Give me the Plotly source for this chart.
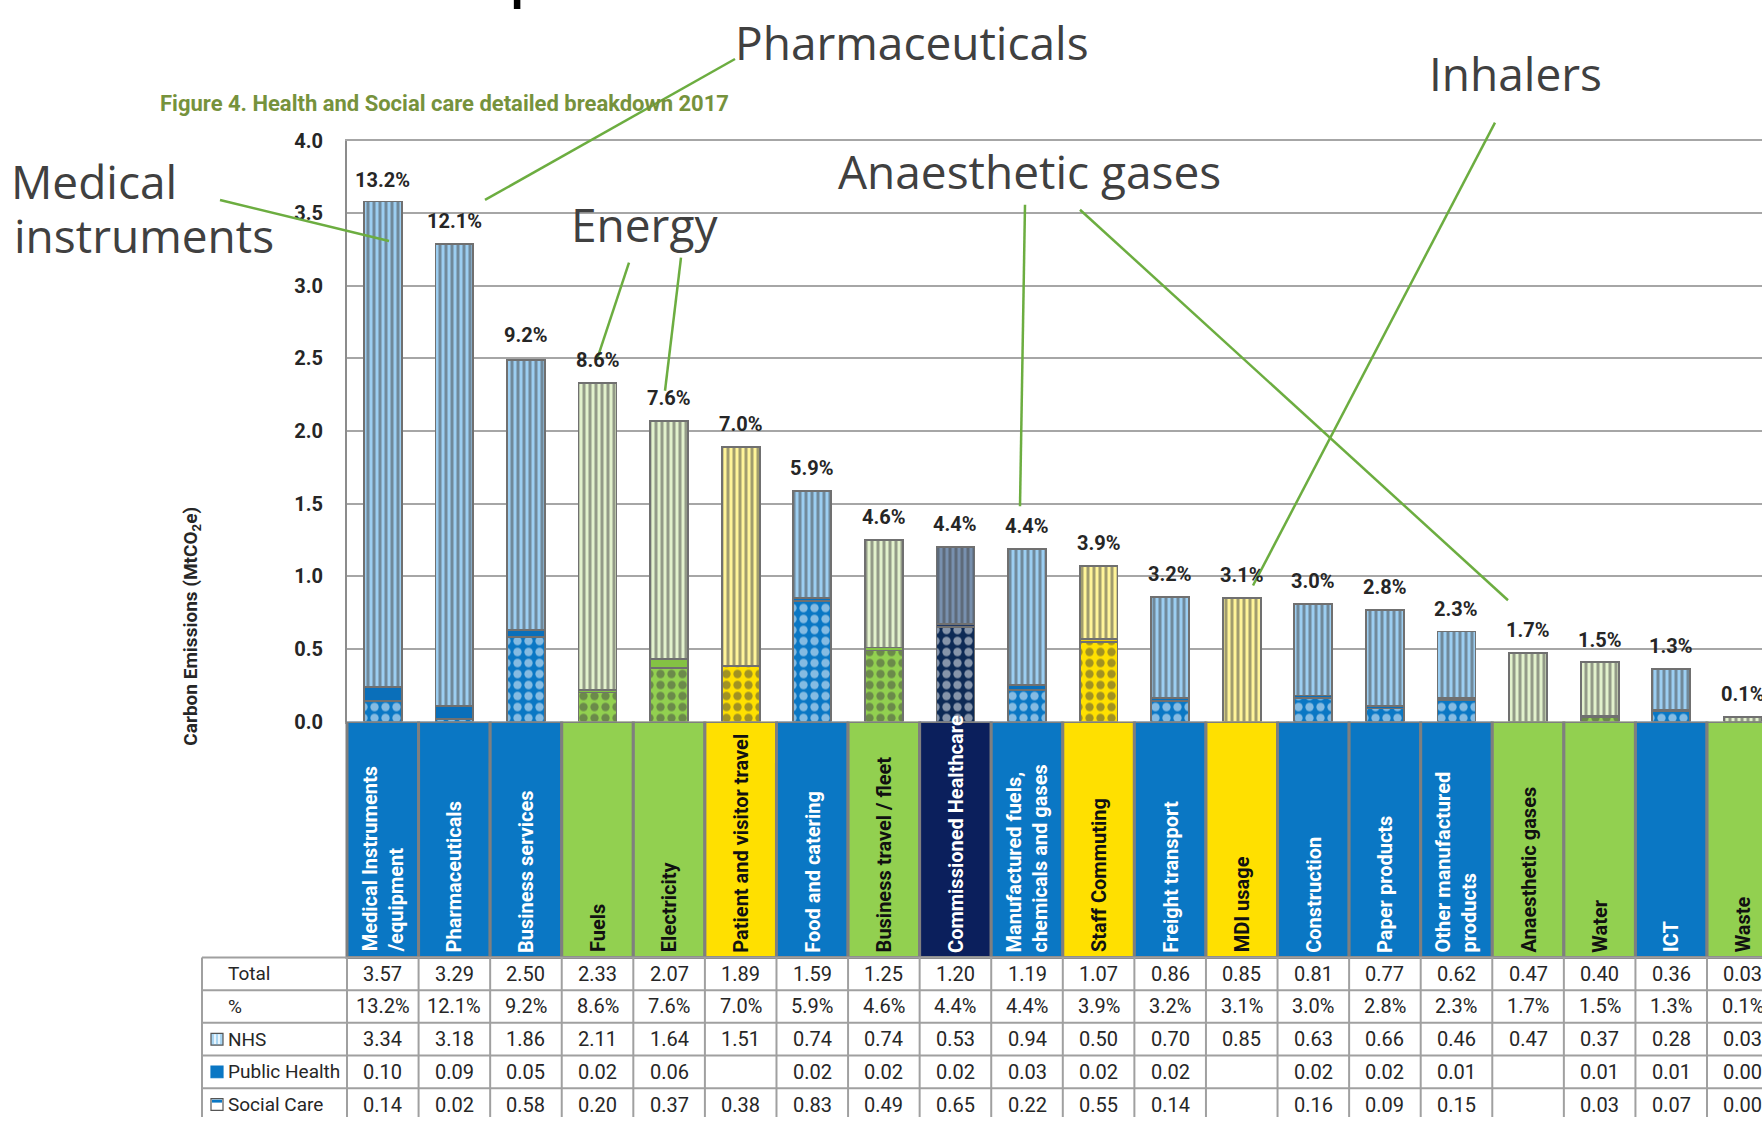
import plotly.graph_objects as go

# ---------------- data ----------------
categories = ["Medical Instruments\n/equipment", "Pharmaceuticals", "Business services", "Fuels",
              "Electricity", "Patient and visitor travel", "Food and catering",
              "Business travel / fleet", "Commissioned Healthcare",
              "Manufactured fuels,\nchemicals and gases", "Staff Commuting", "Freight transport",
              "MDI usage", "Construction", "Paper products", "Other manufactured\nproducts",
              "Anaesthetic gases", "Water", "ICT", "Waste"]
sector_group = ["blue", "blue", "blue", "green", "green", "yellow", "blue", "green", "navy", "blue",
                "yellow", "blue", "yellow", "blue", "blue", "blue", "green", "green", "blue", "green"]
total = [3.57, 3.29, 2.50, 2.33, 2.07, 1.89, 1.59, 1.25, 1.20, 1.19,
         1.07, 0.86, 0.85, 0.81, 0.77, 0.62, 0.47, 0.40, 0.36, 0.03]
share_pct = ["13.2%", "12.1%", "9.2%", "8.6%", "7.6%", "7.0%", "5.9%", "4.6%", "4.4%", "4.4%",
             "3.9%", "3.2%", "3.1%", "3.0%", "2.8%", "2.3%", "1.7%", "1.5%", "1.3%", "0.1%"]
nhs = [3.34, 3.18, 1.86, 2.11, 1.64, 1.51, 0.74, 0.74, 0.53, 0.94,
       0.50, 0.70, 0.85, 0.63, 0.66, 0.46, 0.47, 0.37, 0.28, 0.03]
public_health = [0.10, 0.09, 0.05, 0.02, 0.06, None, 0.02, 0.02, 0.02, 0.03,
                 0.02, 0.02, None, 0.02, 0.02, 0.01, None, 0.01, 0.01, 0.00]
social_care = [0.14, 0.02, 0.58, 0.20, 0.37, 0.38, 0.83, 0.49, 0.65, 0.22,
               0.55, 0.14, None, 0.16, 0.09, 0.15, None, 0.03, 0.07, 0.00]
row_labels = ["Total", "%", "NHS", "Public Health", "Social Care"]
y_tick_values = [0.0, 0.5, 1.0, 1.5, 2.0, 2.5, 3.0, 3.5, 4.0]
y_tick_labels = ["0.0", "0.5", "1.0", "1.5", "2.0", "2.5", "3.0", "3.5", "4.0"]
figure_title = "Figure 4. Health and Social care detailed breakdown 2017"
y_title = "Carbon Emissions (MtCO<sub>2</sub>e)"
callouts = ["Pharmaceuticals", "Inhalers", "Medical", "instruments", "Anaesthetic gases", "Energy"]

# ---------------- styles / layout constants ----------------
W, H = 1762, 1129
PLOT_L, PLOT_T, PLOT_B = 347, 131.3, 725
COLW = 71.58
HEADER_H = 241
ROW_H = 33.4
LABEL_L = 202

NARROW = "Liberation Sans Narrow, Arial Narrow, Roboto, sans-serif"
SLIDE = "Open Sans, Noto Sans, sans-serif"
INK = "#262626"
GRID = "#A6A6A6"
EDGE = "#707070"

header_fill = {"blue": "#0A77C4", "green": "#92D050", "yellow": "#FFE000", "navy": "#0B1F5C"}
header_ink = {"blue": "white", "green": "#111111", "yellow": "#111111", "navy": "white"}
nhs_fg = {"blue": "#1479C8", "green": "#A0D262", "yellow": "#FFDF10", "navy": "#1C3557"}
nhs_bg = {"blue": "#9CCEF1", "green": "#E2F1CC", "yellow": "#FFF499", "navy": "#7890AE"}
ph_col = {"blue": "#0A6FBA", "green": "#84C244", "yellow": "#F0CF00", "navy": "#1F3864"}
sc_fg = {"blue": "#0A77C4", "green": "#92D050", "yellow": "#FFE000", "navy": "#0D2A55"}


def px(x):
    return x / W


def py(y):
    return 1 - y / H


def x2(pix):  # pixel x -> table axis units
    return -0.5 + (pix - PLOT_L) / COLW


def y2(pix):  # pixel y -> table axis units (0 at top of table)
    return pix - PLOT_B


x_max = -0.5 + (W - PLOT_L) / COLW
x2_min = -0.5 - PLOT_L / COLW
idx = list(range(len(categories)))

fig = go.Figure()

fig.add_trace(go.Bar(
    x=idx, y=social_care, name="Social Care", width=0.53, hoverinfo="skip",
    marker=dict(color=[sc_fg[g] for g in sector_group], line=dict(color=EDGE, width=1.8),
                pattern=dict(shape=".", fgcolor=[sc_fg[g] for g in sector_group],
                             bgcolor="white", size=11, solidity=0.45))))
fig.add_trace(go.Bar(
    x=idx, y=public_health, name="Public Health", width=0.53, hoverinfo="skip",
    marker=dict(color=[ph_col[g] for g in sector_group], line=dict(color=EDGE, width=1.8))))
fig.add_trace(go.Bar(
    x=idx, y=nhs, name="NHS", width=0.53, hoverinfo="skip",
    marker=dict(color=[nhs_bg[g] for g in sector_group], line=dict(color=EDGE, width=1.8),
                pattern=dict(shape="|", fgcolor=[nhs_fg[g] for g in sector_group],
                             bgcolor=[nhs_bg[g] for g in sector_group], size=6, solidity=0.5))))

annotations = []
shapes = []

# percentage labels above bars
for i, (t, p) in enumerate(zip(total, share_pct)):
    annotations.append(dict(x=i, y=t, xref="x", yref="y", text=p, showarrow=False,
                            yshift=23, font=dict(family=NARROW, size=20, color=INK, weight="bold")))

# ---------------- data table ----------------
for i, (cat, g) in enumerate(zip(categories, sector_group)):
    shapes.append(dict(type="rect", xref="x2", yref="y2", x0=i - 0.5, x1=i + 0.5, y0=0, y1=HEADER_H,
                       fillcolor=header_fill[g], line=dict(color="#7F7F7F", width=3), layer="above"))
    annotations.append(dict(x=i, y=HEADER_H - 3, xref="x2", yref="y2", text=cat.replace("\n", "<br>"),
                            showarrow=False, textangle=-90, xanchor="center", yanchor="bottom",
                            align="left",
                            font=dict(family=NARROW, size=20, color=header_ink[g], weight="bold")))

row_top = [HEADER_H + k * ROW_H for k in range(len(row_labels) + 1)]
for yb in row_top:
    shapes.append(dict(type="line", xref="x2", yref="y2", x0=x2(LABEL_L), x1=x_max, y0=yb, y1=yb,
                       line=dict(color="#A0A0A0", width=2)))
for xb in [x2(LABEL_L)] + [i - 0.5 for i in range(len(categories) + 1)]:
    shapes.append(dict(type="line", xref="x2", yref="y2", x0=xb, x1=xb, y0=HEADER_H, y1=row_top[-1],
                       line=dict(color="#A0A0A0", width=2)))


def fmt(v):
    return "" if v is None else f"{v:.2f}"


table_rows = [[fmt(v) for v in total], share_pct, [fmt(v) for v in nhs],
              [fmt(v) for v in public_health], [fmt(v) for v in social_care]]
for r, (lab, vals) in enumerate(zip(row_labels, table_rows)):
    yc = row_top[r] + ROW_H / 2
    annotations.append(dict(x=x2(226), y=yc, xref="x2", yref="y2", text=lab, showarrow=False,
                            xanchor="left", yanchor="middle",
                            font=dict(family=NARROW, size=19, color=INK)))
    for i, v in enumerate(vals):
        if v == "":
            continue
        annotations.append(dict(x=i, y=yc, xref="x2", yref="y2", text=v, showarrow=False,
                                xanchor="center", yanchor="middle",
                                font=dict(family=NARROW, size=20, color=INK)))


# legend keys in the row-label column
def key_rect(r, fill, line):
    yc = row_top[r] + ROW_H / 2
    return dict(type="rect", xref="x2", yref="y2", x0=x2(211), x1=x2(223), y0=yc - 6, y1=yc + 6,
                fillcolor=fill, line=dict(color=line, width=1.2))


shapes.append(key_rect(2, "#A9D5F2", "#555555"))
for xl in (215, 219):
    yc = row_top[2] + ROW_H / 2
    shapes.append(dict(type="line", xref="x2", yref="y2", x0=x2(xl), x1=x2(xl), y0=yc - 5, y1=yc + 5,
                       line=dict(color="white", width=1.5)))
shapes.append(key_rect(3, "#0A77C4", "#0A77C4"))
shapes.append(key_rect(4, "white", "#555555"))
yc4 = row_top[4] + ROW_H / 2
shapes.append(dict(type="rect", xref="x2", yref="y2", x0=x2(212), x1=x2(222), y0=yc4 - 5, y1=yc4 - 2,
                   fillcolor="#0A77C4", line=dict(width=0)))

# ---------------- titles ----------------
annotations.append(dict(x=px(158), y=py(93), xref="paper", yref="paper", text=figure_title,
                        showarrow=False, xanchor="left", yanchor="middle",
                        font=dict(family=NARROW, size=22, color="#76923C", weight="bold")))
annotations.append(dict(x=px(192), y=py(628), xref="paper", yref="paper", text=y_title,
                        showarrow=False, textangle=-90, xanchor="center", yanchor="middle",
                        font=dict(family=NARROW, size=19, color=INK, weight="bold")))

# slide callout texts and lines
callout_pos = [(733, 30.5), (1427, 62.5), (9, 172.5), (12, 227.5), (836, 162.5), (569, 216.5)]
for txt, (cx, cy) in zip(callouts, callout_pos):
    annotations.append(dict(x=px(cx), y=py(cy), xref="paper", yref="paper", text=txt,
                            showarrow=False, xanchor="left", yanchor="middle",
                            font=dict(family=SLIDE, size=46, color="#404040")))
callout_lines = [((220, 192), (389, 234)), ((735, 48), (485, 192)), ((629, 256), (597, 355)),
                 ((681, 251), (665, 387)), ((1025, 197), (1020, 505)), ((1080, 202), (1508, 601)),
                 ((1495, 113), (1253, 586))]
for (xa, ya), (xb, yb) in callout_lines:
    shapes.append(dict(type="line", xref="paper", yref="paper", x0=px(xa), y0=py(ya), x1=px(xb), y1=py(yb),
                       line=dict(color="#6CAD40", width=2.5), layer="above"))

# fragment of slide heading cut off at the top edge
annotations.append(dict(x=px(505), y=py(3), xref="paper", yref="paper", text="p", showarrow=False,
                        xanchor="left", yanchor="bottom", font=dict(family=SLIDE, size=80, color="black")))

fig.update_layout(
    width=W, height=H, autosize=False,
    margin=dict(l=0, r=0, t=0, b=0),
    paper_bgcolor="white", plot_bgcolor="white",
    barmode="stack", bargap=0.47, showlegend=False,
    xaxis=dict(domain=[px(PLOT_L), 1], range=[-0.5, x_max], anchor="y",
               showticklabels=False, ticks="", showgrid=False, zeroline=False,
               showline=True, mirror=True, linecolor=GRID, linewidth=2),
    yaxis=dict(domain=[py(PLOT_B), py(PLOT_T)], range=[0, 4], anchor="x",
               tickvals=y_tick_values, ticktext=y_tick_labels,
               showgrid=True, gridcolor=GRID, gridwidth=2, zeroline=False,
               showline=True, linecolor="#8C8C8C", linewidth=2, ticks="",
               ticklabelstandoff=18,
               tickfont=dict(family=NARROW, size=20, color=INK, weight="bold")),
    xaxis2=dict(domain=[0, 1], range=[x2_min, x_max], visible=False, anchor="y2"),
    yaxis2=dict(domain=[0, py(PLOT_B)], range=[y2(H), 0], visible=False, anchor="x2"),
    annotations=annotations, shapes=shapes,
)

fig.write_html("out.html", config={"displayModeBar": False},
               post_script="document.body.style.margin='0';document.body.style.overflow='hidden';")
